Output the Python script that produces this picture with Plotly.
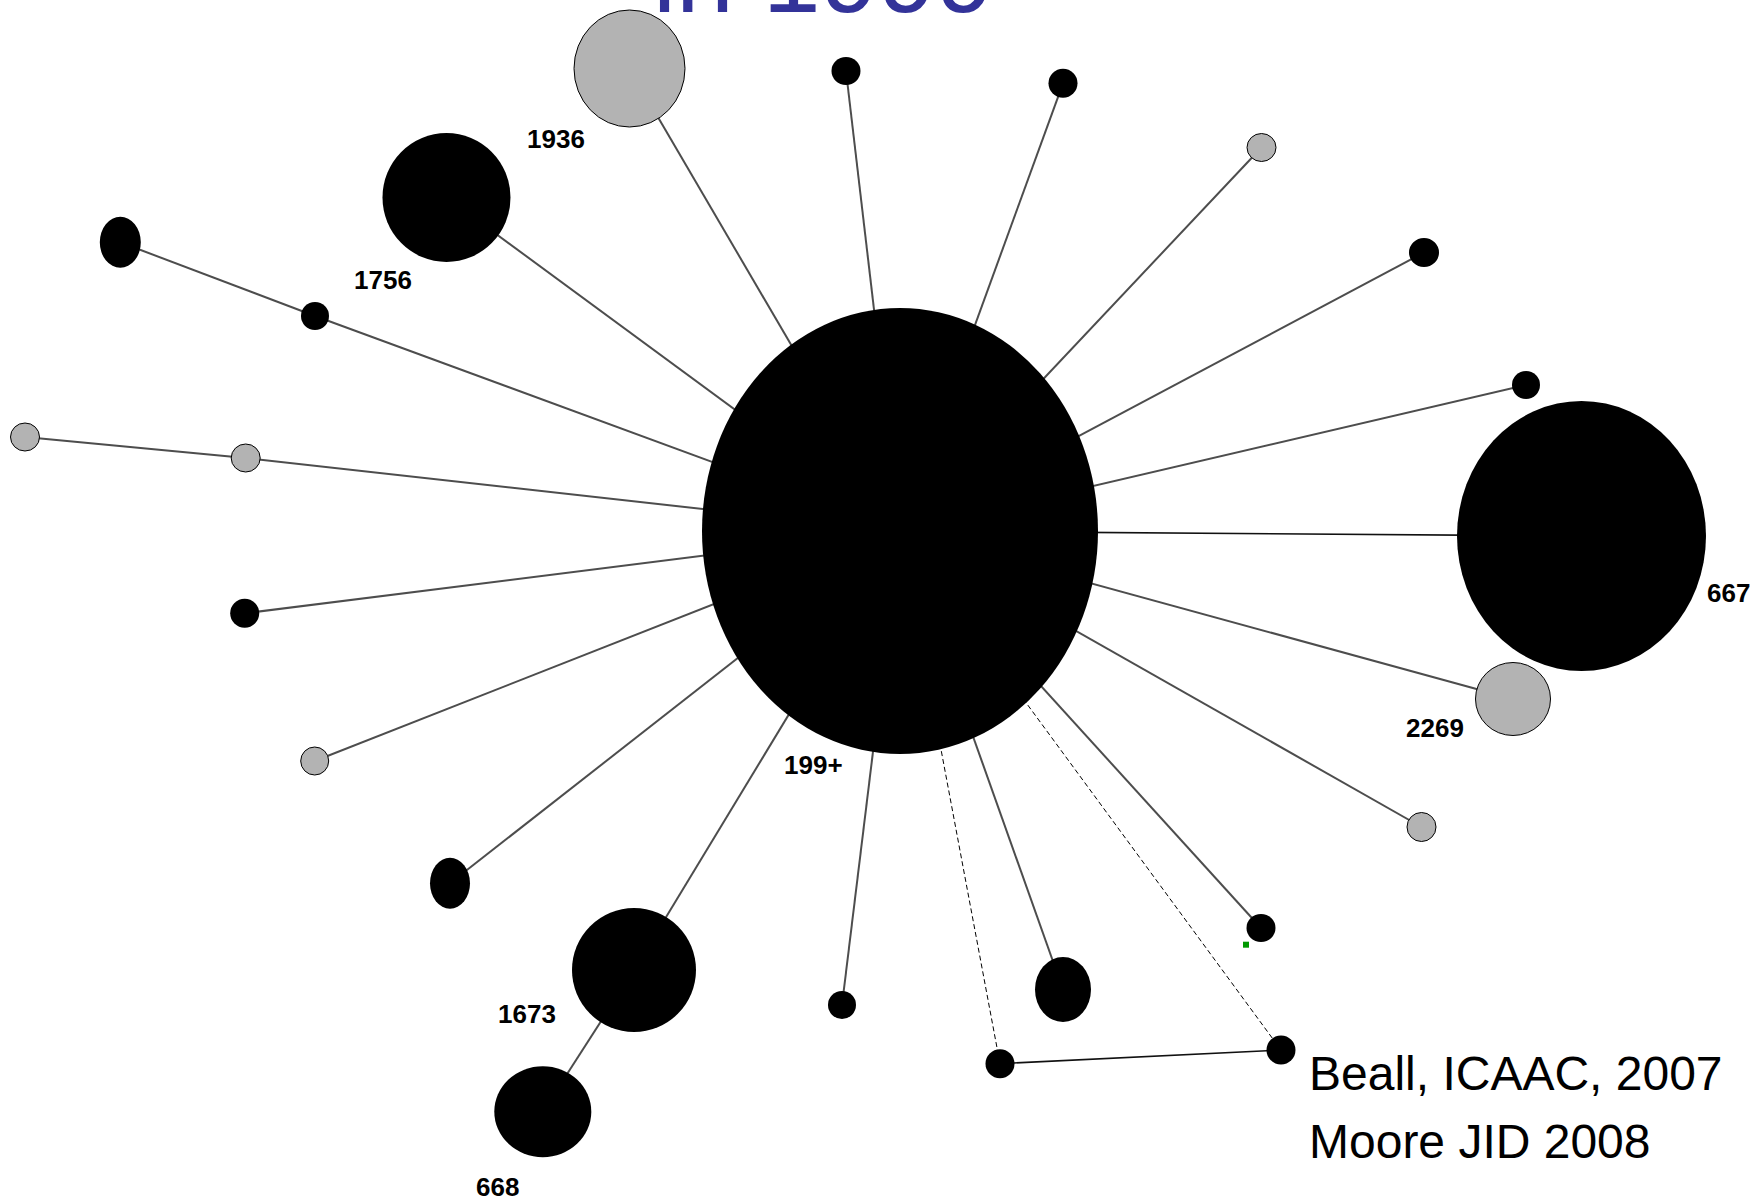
import plotly.graph_objects as go

# Canvas size in pixels; the axes map 1 data unit to 1 pixel.
W, H = 1758, 1203

# ---- Sequence-type network: nodes ----------------------------------------
node_id = ["199", "1936", "a1", "a2", "a3", "a4", "a5", "667", "2269", "a6",
           "a7", "b2", "b1", "a8", "a9", "1673", "668", "a10", "a11", "a12",
           "a13", "c1", "a14", "c2", "1756"]
node_x = [900, 629.5, 846, 1063, 1261.5, 1424, 1526, 1581.5, 1513, 1421.5,
          1261, 1281, 1000, 1063, 842, 634, 542.8, 450, 314.7, 244.7,
          245.7, 25, 315, 120.3, 446.5]
node_y = [531, 68.5, 71, 83.3, 147.5, 252.5, 385, 536, 699, 827,
          928, 1050, 1063.7, 989.5, 1005, 970, 1111.7, 883.3, 761, 613.3,
          458, 437, 316, 242.3, 197.5]
node_w = [396, 111, 29, 29, 29, 30, 28, 249, 75, 29,
          29, 29, 29, 56, 28, 124, 97, 40, 28, 29,
          29, 29, 28, 41, 128]
node_h = [446, 117, 28, 29, 28, 29, 28, 270, 73, 29,
          28, 29, 29, 65, 28, 124, 91, 51, 28, 29,
          28, 28, 28, 51, 129]
node_group = ["black", "grey", "black", "black", "grey", "black", "black", "black", "grey", "grey",
              "black", "black", "black", "black", "black", "black", "black", "black", "grey", "black",
              "grey", "grey", "black", "black", "black"]

# ---- Links ----------------------------------------------------------------
links_solid = [("199", "1936"), ("199", "a1"), ("199", "a2"), ("199", "a3"),
               ("199", "a4"), ("199", "a5"), ("199", "2269"), ("199", "a6"),
               ("199", "a7"), ("199", "a8"), ("199", "a9"), ("199", "1673"),
               ("1673", "668"), ("199", "a10"), ("199", "a11"), ("199", "a12"),
               ("199", "a13"), ("a13", "c1"), ("199", "a14"), ("a14", "c2"),
               ("199", "1756")]
links_dark = [("199", "667"), ("b1", "b2")]
links_dashed = [("199", "b1"), ("199", "b2")]

# ---- Node labels ----------------------------------------------------------
label_text = ["1936", "1756", "199+", "667", "2269", "1673", "668"]
label_x = [556, 383, 813, 1728, 1434.7, 527, 497]
label_y = [139, 280, 765, 593, 728, 1014, 1187]

# Stray marker near the lower-right leaf
marker_x = [1246]
marker_y = [944.7]

title_text = "in 1999"
source_lines = ["Beall, ICAAC, 2007", "Moore JID 2008"]

GROUP_FILL = {"black": "#000000", "grey": "#b3b3b3"}
pos = {n: (x, y) for n, x, y in zip(node_id, node_x, node_y)}


def link_path(links):
    xs, ys = [], []
    for a, b in links:
        xs += [pos[a][0], pos[b][0], None]
        ys += [pos[a][1], pos[b][1], None]
    return xs, ys


fig = go.Figure()

for links, color, width, dash in [
    (links_solid, "#4d4d4d", 2.0, "solid"),
    (links_dark, "#111111", 1.6, "solid"),
    (links_dashed, "#000000", 1.0, "5px,3px"),
]:
    xs, ys = link_path(links)
    fig.add_trace(go.Scatter(x=xs, y=ys, mode="lines",
                             line=dict(color=color, width=width, dash=dash),
                             hoverinfo="skip", showlegend=False))

fig.add_trace(go.Scatter(x=marker_x, y=marker_y, mode="markers",
                         marker=dict(symbol="square", size=6, color="#009900",
                                     line=dict(width=0)),
                         hoverinfo="skip", showlegend=False))

# Nodes as ellipses, sized in data units
for x, y, w, h, g in zip(node_x, node_y, node_w, node_h, node_group):
    fig.add_shape(type="circle", xref="x", yref="y",
                  x0=x - w / 2, x1=x + w / 2, y0=y - h / 2, y1=y + h / 2,
                  fillcolor=GROUP_FILL[g],
                  line=dict(color="#000000", width=1 if g == "grey" else 0),
                  layer="above")

for t, x, y in zip(label_text, label_x, label_y):
    fig.add_annotation(x=x, y=y, xref="x", yref="y", text=f"<b>{t}</b>",
                       showarrow=False, xanchor="center", yanchor="middle",
                       font=dict(family="Liberation Sans, Arial", size=26, color="#000000"))

for i, line in enumerate(source_lines):
    fig.add_annotation(x=1307, y=1073 + i * 68, xref="x", yref="y", text=line,
                       showarrow=False, xanchor="left", yanchor="middle",
                       font=dict(family="Liberation Sans, Arial", size=48, color="#000000"))

fig.add_annotation(x=651 / W, y=1 + 24 / H, xref="paper", yref="paper",
                   text=title_text, showarrow=False, xanchor="left", yanchor="middle",
                   font=dict(family="Liberation Sans, Arial", size=104, color="#333399"))

fig.update_layout(
    width=W, height=H,
    margin=dict(l=0, r=0, t=0, b=0),
    paper_bgcolor="white", plot_bgcolor="white",
    showlegend=False,
    xaxis=dict(range=[0, W], visible=False, fixedrange=True),
    yaxis=dict(range=[H, 0], visible=False, fixedrange=True),
)

fig.write_html("out.html", config={"displayModeBar": False})
